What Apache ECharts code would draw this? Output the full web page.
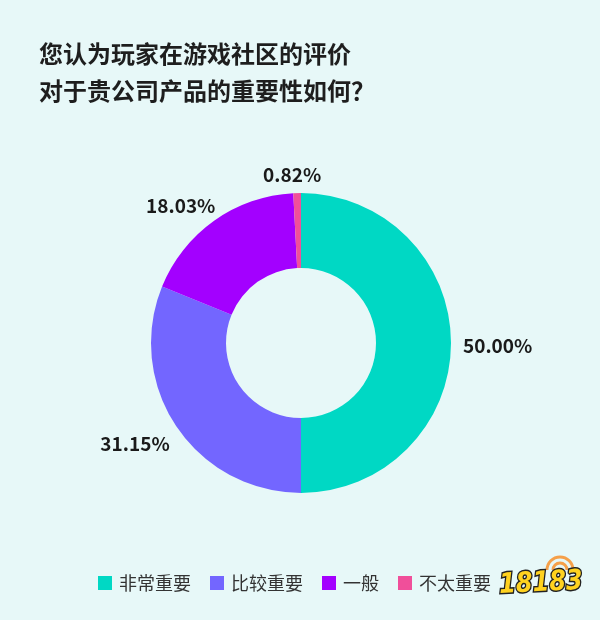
<!DOCTYPE html>
<html>
<head>
<meta charset="utf-8">
<script src="https://cdn.jsdelivr.net/npm/echarts@6/dist/echarts.min.js"></script>
<style>
html,body{margin:0;padding:0;background:#e7f8f8;}
#c{width:600px;height:620px;}
</style>
</head>
<body>
<div id="c"></div>
<script>
const titleLines = ['您认为玩家在游戏社区的评价', '对于贵公司产品的重要性如何？'];
const categories = ['非常重要', '比较重要', '一般', '不太重要'];
const values = [50.00, 31.15, 18.03, 0.82];
const colors = ['#00d8c4', '#7366ff', '#a300ff', '#f04f9a'];

const CX = 301, CY = 343, R_IN = 75, R_OUT = 150, LABEL_GAP = 12;
const total = values.reduce((a, b) => a + b, 0);
const midAngles = [];
let acc = 0;
values.forEach(v => { midAngles.push((acc + v / 2) / total * Math.PI * 2); acc += v; });
const sgnSqrt = v => Math.sign(v) * Math.sqrt(Math.abs(v));

const chart = echarts.init(document.getElementById('c'));
const font = '"Noto Sans CJK SC", "Noto Sans", sans-serif';
chart.setOption({
  backgroundColor: '#e7f8f8',
  color: colors,
  title: {
    text: titleLines.join('\n'),
    left: 34, top: 30,
    textStyle: { fontFamily: font, fontSize: 24, fontWeight: 'bold', color: '#1e1e1e', lineHeight: 37 }
  },
  legend: {
    bottom: 23, left: 93,
    itemWidth: 14, itemHeight: 14, itemGap: 19,
    icon: 'rect',
    textStyle: { fontFamily: font, fontSize: 18, color: '#333', padding: [0,0,0,2] },
    data: categories
  },
  series: [{
    type: 'pie',
    center: [CX, CY],
    radius: [R_IN, R_OUT],
    startAngle: 90,
    clockwise: true,
    avoidLabelOverlap: false,
    label: {
      show: true, position: 'outside',
      formatter: p => values[p.dataIndex].toFixed(2) + '%',
      fontFamily: font, fontSize: 19, fontWeight: 600, color: '#1a1a1a'
    },
    labelLine: { show: false, length: 12, length2: 0 },
    labelLayout: function (p) {
      const a = midAngles[p.dataIndex];
      const s = Math.sin(a), c = Math.cos(a);
      const w = p.labelRect.width, h = p.labelRect.height;
      const r = R_OUT + LABEL_GAP;
      return {
        x: CX + s * r + sgnSqrt(s) * w / 2,
        y: CY - c * r - sgnSqrt(c) * h / 2 + 3,
        align: 'center', verticalAlign: 'middle'
      };
    },
    emphasis: { disabled: true },
    data: categories.map((c, i) => ({ name: c, value: values[i] }))
  }],
  graphic: [
    { type: 'arc', shape: { cx: 560, cy: 570, r: 13, startAngle: Math.PI, endAngle: 2 * Math.PI }, style: { stroke: '#f5a04a', lineWidth: 3, fill: null } },
    { type: 'arc', shape: { cx: 560, cy: 570, r: 7, startAngle: Math.PI, endAngle: 2 * Math.PI }, style: { stroke: '#f5a04a', lineWidth: 3, fill: null } },
    {
      type: 'text', left: 497, top: 566, rotation: 0.05, scaleX: 0.86,
      style: { text: '18183', fontFamily: 'DejaVu Sans', fontWeight: 'bold', fontStyle: 'italic', fontSize: 28, fill: '#ffd21f', stroke: '#222', lineWidth: 3 }
    }
  ]
});
</script>
</body>
</html>
